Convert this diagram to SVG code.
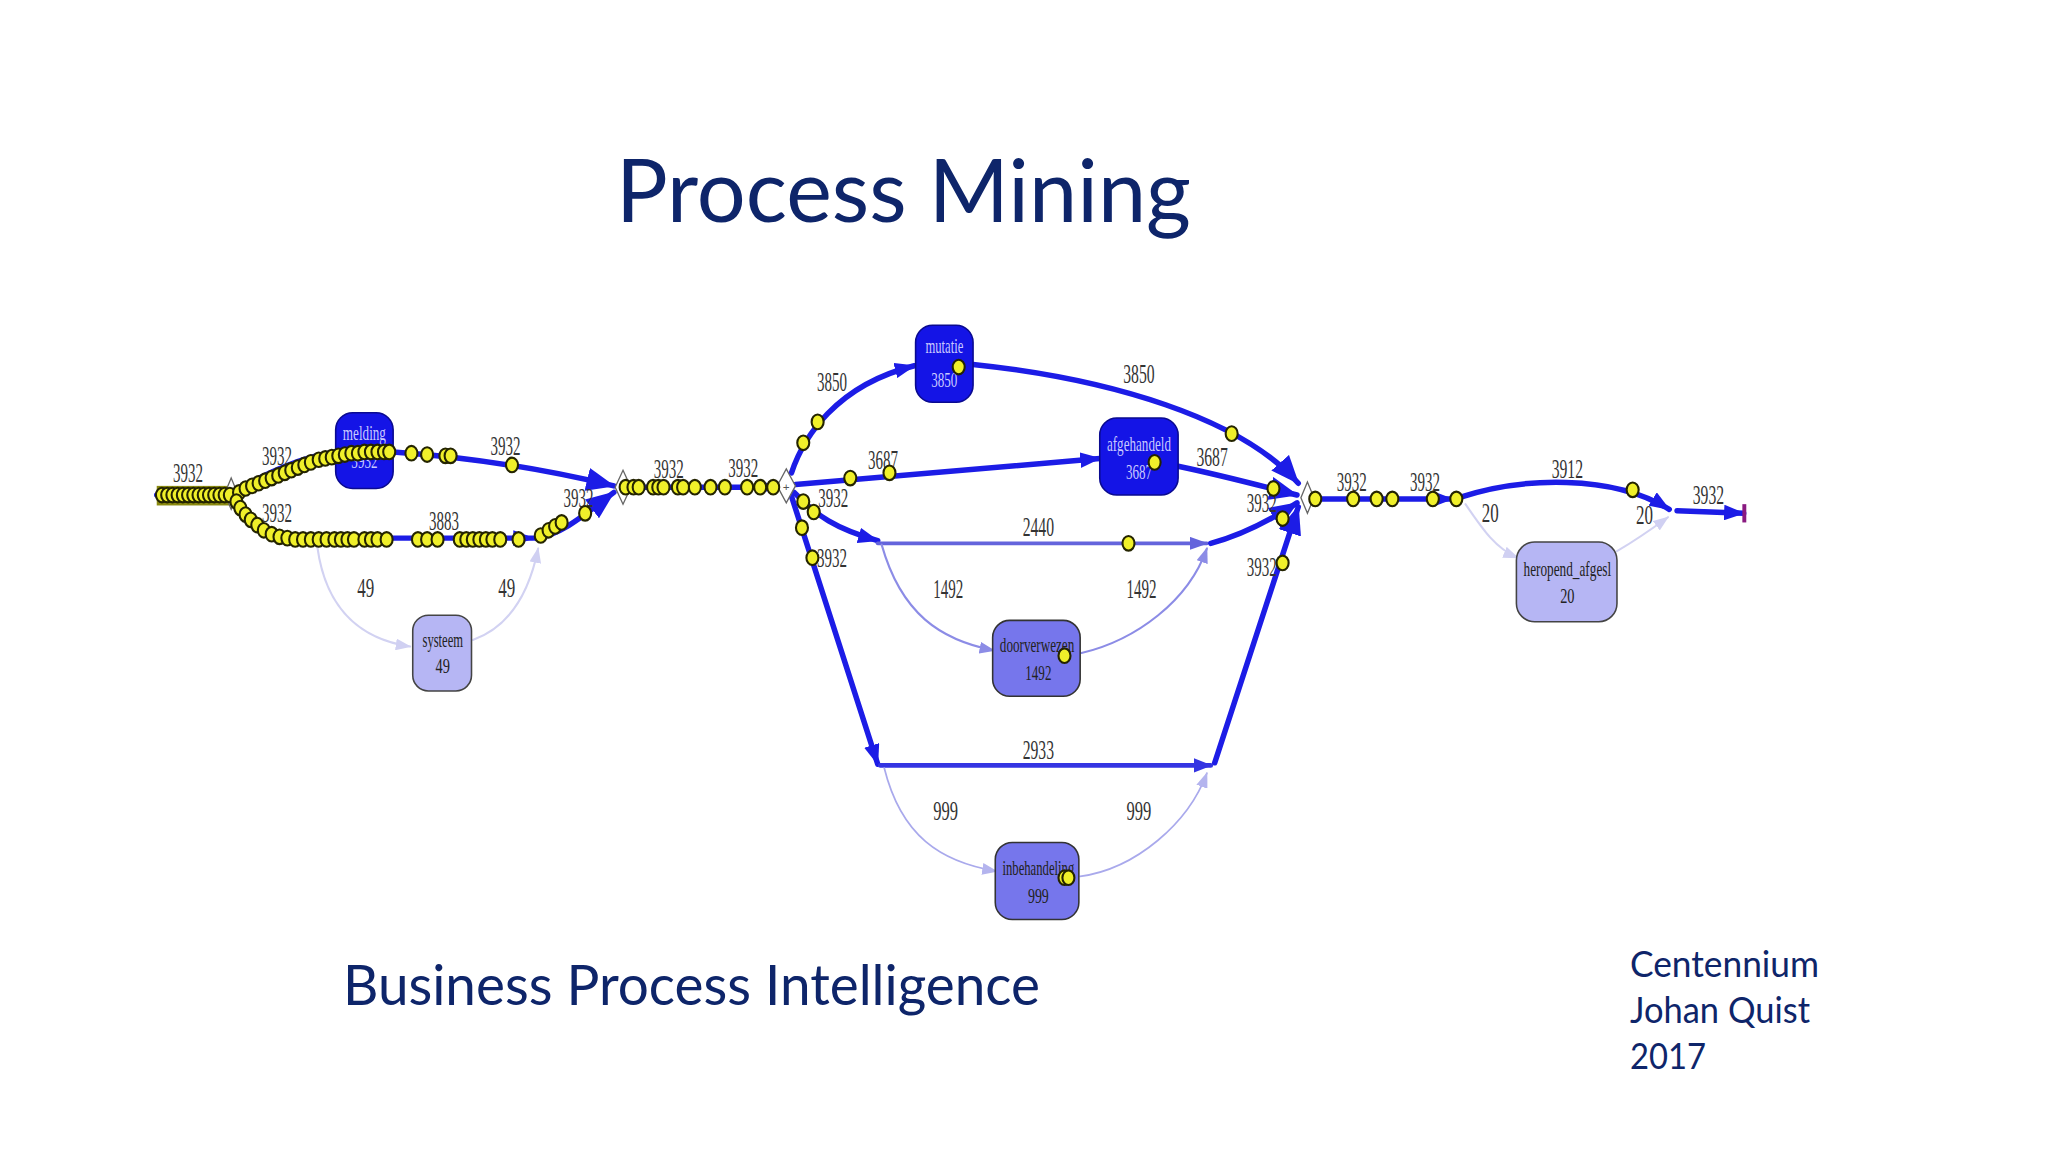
<svg xmlns="http://www.w3.org/2000/svg" xmlns:xlink="http://www.w3.org/1999/xlink" width="2048" height="1152" viewBox="0 0 2048 1152">
<style>
.slide{font-family:Lato,"Open Sans","Liberation Sans",sans-serif;fill:#0e256a}
.lbl{font-family:"Liberation Serif",serif;font-size:21px;fill:#333;text-anchor:middle}
.nd{font-family:"Liberation Serif",serif;font-size:16px;text-anchor:middle}
.dk{fill:#1414e6;stroke:#0a0a90;stroke-width:1.2}
.dk-t{fill:#c9c9ff}
.md{fill:#7676ec;stroke:#333;stroke-width:1.2}
.lt{fill:#b6b6f4;stroke:#444;stroke-width:1.2}
.dt{fill:#222}
.e{fill:none;stroke-linecap:round}
.th{stroke:#1c1ce6;stroke-width:4.2}
.mid{stroke:#6464dc;stroke-width:3}
.m2{stroke:#3434e2;stroke-width:3.6}
.li{stroke:#8c8ce6;stroke-width:1.6}
.pa{stroke:#a9a9ec;stroke-width:1.3}
.pl{stroke:#d2d2f2;stroke-width:1.6}
.dia{fill:#fff;stroke:#666;stroke-width:1}
.tk{fill:#f0f02a;stroke:#242400;stroke-width:1.6}
</style>
<defs>
<marker id="aD" markerUnits="userSpaceOnUse" markerWidth="16" markerHeight="12" refX="15" refY="6" orient="auto"><path d="M0,0 L16,6 L0,12 z" fill="#1c1ce6"/></marker>
<marker id="aB" markerUnits="userSpaceOnUse" markerWidth="22" markerHeight="18" refX="21" refY="9" orient="auto"><path d="M0,0 L22,9 L0,18 z" fill="#1c1ce6"/></marker>
<marker id="aM" markerUnits="userSpaceOnUse" markerWidth="14" markerHeight="10" refX="13" refY="5" orient="auto"><path d="M0,0 L14,5 L0,10 z" fill="#6464dc"/></marker>
<marker id="aM2" markerUnits="userSpaceOnUse" markerWidth="14" markerHeight="11" refX="13" refY="5.5" orient="auto"><path d="M0,0 L14,5.5 L0,11 z" fill="#3434e2"/></marker>
<marker id="aL" markerUnits="userSpaceOnUse" markerWidth="12" markerHeight="9" refX="11" refY="4.5" orient="auto"><path d="M0,0 L12,4.5 L0,9 z" fill="#8c8ce6"/></marker>
<marker id="aP" markerUnits="userSpaceOnUse" markerWidth="12" markerHeight="9" refX="11" refY="4.5" orient="auto"><path d="M0,0 L12,4.5 L0,9 z" fill="#b4b4ee"/></marker>
<marker id="aPl" markerUnits="userSpaceOnUse" markerWidth="12" markerHeight="9" refX="11" refY="4.5" orient="auto"><path d="M0,0 L12,4.5 L0,9 z" fill="#d0d0f2"/></marker>
<ellipse id="t" class="tk" cx="0" cy="0" rx="4.6" ry="5.6"/>
</defs>
<rect width="2048" height="1152" fill="#ffffff"/>

<text class="slide" x="616" y="222" font-size="88" textLength="575" lengthAdjust="spacingAndGlyphs">Process Mining</text>
<text class="slide" x="343" y="1005" font-size="56" textLength="697" lengthAdjust="spacingAndGlyphs">Business Process Intelligence</text>
<g class="slide" font-size="36">
<text x="1630" y="977" textLength="189" lengthAdjust="spacingAndGlyphs">Centennium</text>
<text x="1630" y="1023" textLength="180" lengthAdjust="spacingAndGlyphs">Johan Quist</text>
<text x="1630" y="1069" textLength="76" lengthAdjust="spacingAndGlyphs">2017</text>
</g>

<g transform="scale(1.306122)">
<g id="connectors">
<path class="e th" d="M120,379 L176,379"/>
<rect x="120" y="372" width="58" height="15" fill="#8a8a10"/>
<path class="e th" d="M181,375 C205,362 230,350 257,346"/>
<path class="e th" d="M301,346 C360,350 420,360 470,372" marker-end="url(#aB)"/>
<path class="e th" d="M180,383 C195,400 205,412 230,412 L408,412" marker-end="url(#aD)"/>
<path class="e th" d="M410,412 C430,410 450,392 470,377" marker-end="url(#aB)"/>
<path class="e pl" d="M243,419 C250,470 280,490 314,495" marker-end="url(#aPl)"/>
<path class="e pl" d="M362,490 C390,480 405,455 412,420" marker-end="url(#aPl)"/>
<path class="e th" d="M484,373 L595,373" marker-end="url(#aD)"/>
<path class="e th" d="M606,362 C615,335 640,295 700,280" marker-end="url(#aD)"/>
<path class="e th" d="M745,279 C850,290 950,320 994,370" marker-end="url(#aB)"/>
<path class="e th" d="M609,371 L842,351" marker-end="url(#aD)"/>
<path class="e th" d="M902,357 C940,365 965,372 993,379" marker-end="url(#aB)"/>
<path class="e th" d="M608,377 C625,395 640,405 672,414" marker-end="url(#aD)"/>
<path class="e mid" d="M672,416 L924,416" marker-end="url(#aM)"/>
<path class="e th" d="M927,416 C950,410 970,400 993,385" marker-end="url(#aB)"/>
<path class="e li" d="M675,417 C690,470 720,490 761,498" marker-end="url(#aL)"/>
<path class="e li" d="M828,500 C870,490 910,460 924,420" marker-end="url(#aL)"/>
<path class="e th" d="M606,380 L672,585" marker-end="url(#aD)"/>
<path class="e m2" d="M674,586 L927,586" marker-end="url(#aM2)"/>
<path class="e th" d="M930,584 L994,388" marker-end="url(#aB)"/>
<path class="e pa" d="M677,588 C690,640 720,660 763,667" marker-end="url(#aP)"/>
<path class="e pa" d="M827,671 C870,665 910,630 924,592" marker-end="url(#aP)"/>
<path class="e th" d="M1007,382 L1112,382" marker-end="url(#aD)"/>
<path class="e th" d="M1117,381 C1165,365 1235,363 1278,390" marker-end="url(#aD)"/>
<path class="e pl" d="M1122,386 C1135,405 1145,420 1162,427" marker-end="url(#aPl)"/>
<path class="e pl" d="M1238,422 C1255,412 1266,404 1277,396" marker-end="url(#aPl)"/>
<path class="e th" d="M1284,391 L1335,393" marker-end="url(#aD)"/>
<rect x="1334" y="386" width="3" height="14" fill="#8a1a80"/>
</g>

<g id="gateways">
<path class="dia" d="M177,366 L182,378 L177,390 L172,378 z"/>
<path class="dia" d="M477,360 L483,373 L477,386 L471,373 z"/>
<path class="dia" d="M602,359 L609,372 L602,385 L595,372 z"/>
<text x="602" y="376" font-family="Liberation Sans,sans-serif" font-size="9" text-anchor="middle" fill="#555">+</text>
<path class="dia" d="M1001,369 L1006,381 L1001,393 L996,381 z"/>
</g>

<g id="node-melding"><rect class="dk" x="257" y="316" width="44" height="58" rx="13"/><text class="nd dk-t" x="279" y="337" textLength="33" lengthAdjust="spacingAndGlyphs">melding</text><text class="nd dk-t" x="279" y="358" textLength="20" lengthAdjust="spacingAndGlyphs">3932</text></g>
<g id="node-systeem"><rect class="lt" x="316" y="471" width="45" height="58" rx="12"/><text class="nd dt" x="339" y="495" textLength="31" lengthAdjust="spacingAndGlyphs">systeem</text><text class="nd dt" x="339" y="515" textLength="11" lengthAdjust="spacingAndGlyphs">49</text></g>
<g id="node-mutatie"><rect class="dk" x="701" y="249" width="44" height="59" rx="13"/><text class="nd dk-t" x="723" y="270" textLength="29" lengthAdjust="spacingAndGlyphs">mutatie</text><text class="nd dk-t" x="723" y="296" textLength="20" lengthAdjust="spacingAndGlyphs">3850</text></g>
<g id="node-afgehandeld"><rect class="dk" x="842" y="320" width="60" height="59" rx="13"/><text class="nd dk-t" x="872" y="345" textLength="49" lengthAdjust="spacingAndGlyphs">afgehandeld</text><text class="nd dk-t" x="872" y="367" textLength="20" lengthAdjust="spacingAndGlyphs">3687</text></g>
<g id="node-doorverwezen"><rect class="md" x="760" y="475" width="67" height="58" rx="13"/><text class="nd dt" x="794" y="499" textLength="57" lengthAdjust="spacingAndGlyphs">doorverwezen</text><text class="nd dt" x="795" y="521" textLength="20" lengthAdjust="spacingAndGlyphs">1492</text></g>
<g id="node-inbehandeling"><rect class="md" x="762" y="645" width="64" height="59" rx="13"/><text class="nd dt" x="795" y="670" textLength="55" lengthAdjust="spacingAndGlyphs">inbehandeling</text><text class="nd dt" x="795" y="691" textLength="16" lengthAdjust="spacingAndGlyphs">999</text></g>
<g id="node-heropend"><rect class="lt" x="1161" y="415" width="77" height="61" rx="14"/><text class="nd dt" x="1200" y="441" textLength="67" lengthAdjust="spacingAndGlyphs">heropend_afgesl</text><text class="nd dt" x="1200" y="462" textLength="11" lengthAdjust="spacingAndGlyphs">20</text></g>

<g id="labels">
<text class="lbl" x="144" y="369" textLength="23" lengthAdjust="spacingAndGlyphs">3932</text>
<text class="lbl" x="212" y="356" textLength="23" lengthAdjust="spacingAndGlyphs">3932</text>
<text class="lbl" x="212" y="400" textLength="23" lengthAdjust="spacingAndGlyphs">3932</text>
<text class="lbl" x="340" y="406" textLength="23" lengthAdjust="spacingAndGlyphs">3883</text>
<text class="lbl" x="387" y="348" textLength="23" lengthAdjust="spacingAndGlyphs">3932</text>
<text class="lbl" x="443" y="388" textLength="23" lengthAdjust="spacingAndGlyphs">3932</text>
<text class="lbl" x="280" y="457" textLength="13" lengthAdjust="spacingAndGlyphs">49</text>
<text class="lbl" x="388" y="457" textLength="13" lengthAdjust="spacingAndGlyphs">49</text>
<text class="lbl" x="512" y="366" textLength="23" lengthAdjust="spacingAndGlyphs">3932</text>
<text class="lbl" x="569" y="365" textLength="23" lengthAdjust="spacingAndGlyphs">3932</text>
<text class="lbl" x="637" y="299" textLength="23" lengthAdjust="spacingAndGlyphs">3850</text>
<text class="lbl" x="676" y="359" textLength="23" lengthAdjust="spacingAndGlyphs">3687</text>
<text class="lbl" x="638" y="388" textLength="23" lengthAdjust="spacingAndGlyphs">3932</text>
<text class="lbl" x="637" y="434" textLength="23" lengthAdjust="spacingAndGlyphs">3932</text>
<text class="lbl" x="795" y="410" textLength="24" lengthAdjust="spacingAndGlyphs">2440</text>
<text class="lbl" x="726" y="458" textLength="23" lengthAdjust="spacingAndGlyphs">1492</text>
<text class="lbl" x="874" y="458" textLength="23" lengthAdjust="spacingAndGlyphs">1492</text>
<text class="lbl" x="795" y="581" textLength="24" lengthAdjust="spacingAndGlyphs">2933</text>
<text class="lbl" x="724" y="628" textLength="19" lengthAdjust="spacingAndGlyphs">999</text>
<text class="lbl" x="872" y="628" textLength="19" lengthAdjust="spacingAndGlyphs">999</text>
<text class="lbl" x="872" y="293" textLength="24" lengthAdjust="spacingAndGlyphs">3850</text>
<text class="lbl" x="928" y="357" textLength="24" lengthAdjust="spacingAndGlyphs">3687</text>
<text class="lbl" x="966" y="392" textLength="23" lengthAdjust="spacingAndGlyphs">3932</text>
<text class="lbl" x="966" y="441" textLength="23" lengthAdjust="spacingAndGlyphs">3932</text>
<text class="lbl" x="1035" y="376" textLength="23" lengthAdjust="spacingAndGlyphs">3932</text>
<text class="lbl" x="1091" y="376" textLength="23" lengthAdjust="spacingAndGlyphs">3932</text>
<text class="lbl" x="1200" y="366" textLength="24" lengthAdjust="spacingAndGlyphs">3912</text>
<text class="lbl" x="1141" y="400" textLength="13" lengthAdjust="spacingAndGlyphs">20</text>
<text class="lbl" x="1259" y="401" textLength="13" lengthAdjust="spacingAndGlyphs">20</text>
<text class="lbl" x="1308" y="386" textLength="24" lengthAdjust="spacingAndGlyphs">3932</text>
</g>

<g id="tokens">
<use href="#t" x="124" y="379"/><use href="#t" x="128" y="379"/><use href="#t" x="132" y="379"/><use href="#t" x="136" y="379"/><use href="#t" x="140" y="379"/><use href="#t" x="144" y="379"/><use href="#t" x="148" y="379"/><use href="#t" x="152" y="379"/><use href="#t" x="156" y="379"/><use href="#t" x="160" y="379"/><use href="#t" x="164" y="379"/><use href="#t" x="168" y="379"/><use href="#t" x="172" y="379"/><use href="#t" x="176" y="379"/>
<use href="#t" x="183" y="377"/><use href="#t" x="188" y="374"/><use href="#t" x="193" y="372"/><use href="#t" x="198" y="370"/><use href="#t" x="203" y="368"/><use href="#t" x="208" y="366"/><use href="#t" x="213" y="364"/><use href="#t" x="218" y="362"/><use href="#t" x="223" y="360"/><use href="#t" x="228" y="358"/><use href="#t" x="233" y="356"/><use href="#t" x="238" y="354"/><use href="#t" x="244" y="352"/><use href="#t" x="249" y="351"/><use href="#t" x="254" y="350"/><use href="#t" x="259" y="349"/><use href="#t" x="264" y="348"/><use href="#t" x="269" y="347"/><use href="#t" x="274" y="347"/><use href="#t" x="279" y="346"/><use href="#t" x="284" y="346"/><use href="#t" x="289" y="346"/><use href="#t" x="294" y="346"/><use href="#t" x="298" y="346"/>
<use href="#t" x="315" y="347"/><use href="#t" x="327" y="348"/><use href="#t" x="341" y="349"/><use href="#t" x="345" y="349"/><use href="#t" x="392" y="356"/>
<use href="#t" x="181" y="384"/><use href="#t" x="184" y="389"/><use href="#t" x="188" y="394"/><use href="#t" x="192" y="398"/><use href="#t" x="197" y="402"/><use href="#t" x="202" y="406"/><use href="#t" x="208" y="409"/><use href="#t" x="214" y="411"/><use href="#t" x="220" y="412"/><use href="#t" x="226" y="413"/><use href="#t" x="232" y="413"/><use href="#t" x="238" y="413"/><use href="#t" x="244" y="413"/><use href="#t" x="250" y="413"/><use href="#t" x="256" y="413"/><use href="#t" x="261" y="413"/><use href="#t" x="266" y="413"/><use href="#t" x="271" y="413"/><use href="#t" x="279" y="413"/><use href="#t" x="284" y="413"/><use href="#t" x="289" y="413"/><use href="#t" x="296" y="413"/>
<use href="#t" x="320" y="413"/><use href="#t" x="327" y="413"/><use href="#t" x="335" y="413"/><use href="#t" x="352" y="413"/><use href="#t" x="357" y="413"/><use href="#t" x="362" y="413"/><use href="#t" x="367" y="413"/><use href="#t" x="372" y="413"/><use href="#t" x="377" y="413"/><use href="#t" x="383" y="413"/><use href="#t" x="397" y="413"/><use href="#t" x="414" y="410"/><use href="#t" x="420" y="406"/><use href="#t" x="425" y="403"/><use href="#t" x="430" y="400"/><use href="#t" x="448" y="393"/>
<use href="#t" x="479" y="373"/><use href="#t" x="485" y="373"/><use href="#t" x="489" y="373"/><use href="#t" x="500" y="373"/><use href="#t" x="504" y="373"/><use href="#t" x="508" y="373"/><use href="#t" x="519" y="373"/><use href="#t" x="523" y="373"/><use href="#t" x="532" y="373"/><use href="#t" x="544" y="373"/><use href="#t" x="555" y="373"/><use href="#t" x="572" y="373"/><use href="#t" x="582" y="373"/><use href="#t" x="592" y="373"/>
<use href="#t" x="615" y="339"/><use href="#t" x="626" y="323"/><use href="#t" x="651" y="366"/><use href="#t" x="681" y="362"/><use href="#t" x="615" y="384"/><use href="#t" x="623" y="392"/><use href="#t" x="614" y="404"/><use href="#t" x="622" y="427"/>
<use href="#t" x="734" y="281"/><use href="#t" x="943" y="332"/><use href="#t" x="884" y="354"/><use href="#t" x="975" y="374"/><use href="#t" x="982" y="397"/><use href="#t" x="982" y="431"/><use href="#t" x="864" y="416"/><use href="#t" x="815" y="502"/><use href="#t" x="815" y="672"/><use href="#t" x="818" y="672"/>
<use href="#t" x="1007" y="382"/><use href="#t" x="1036" y="382"/><use href="#t" x="1054" y="382"/><use href="#t" x="1066" y="382"/><use href="#t" x="1097" y="382"/><use href="#t" x="1115" y="382"/><use href="#t" x="1250" y="375"/>
</g>
</g>
</svg>
